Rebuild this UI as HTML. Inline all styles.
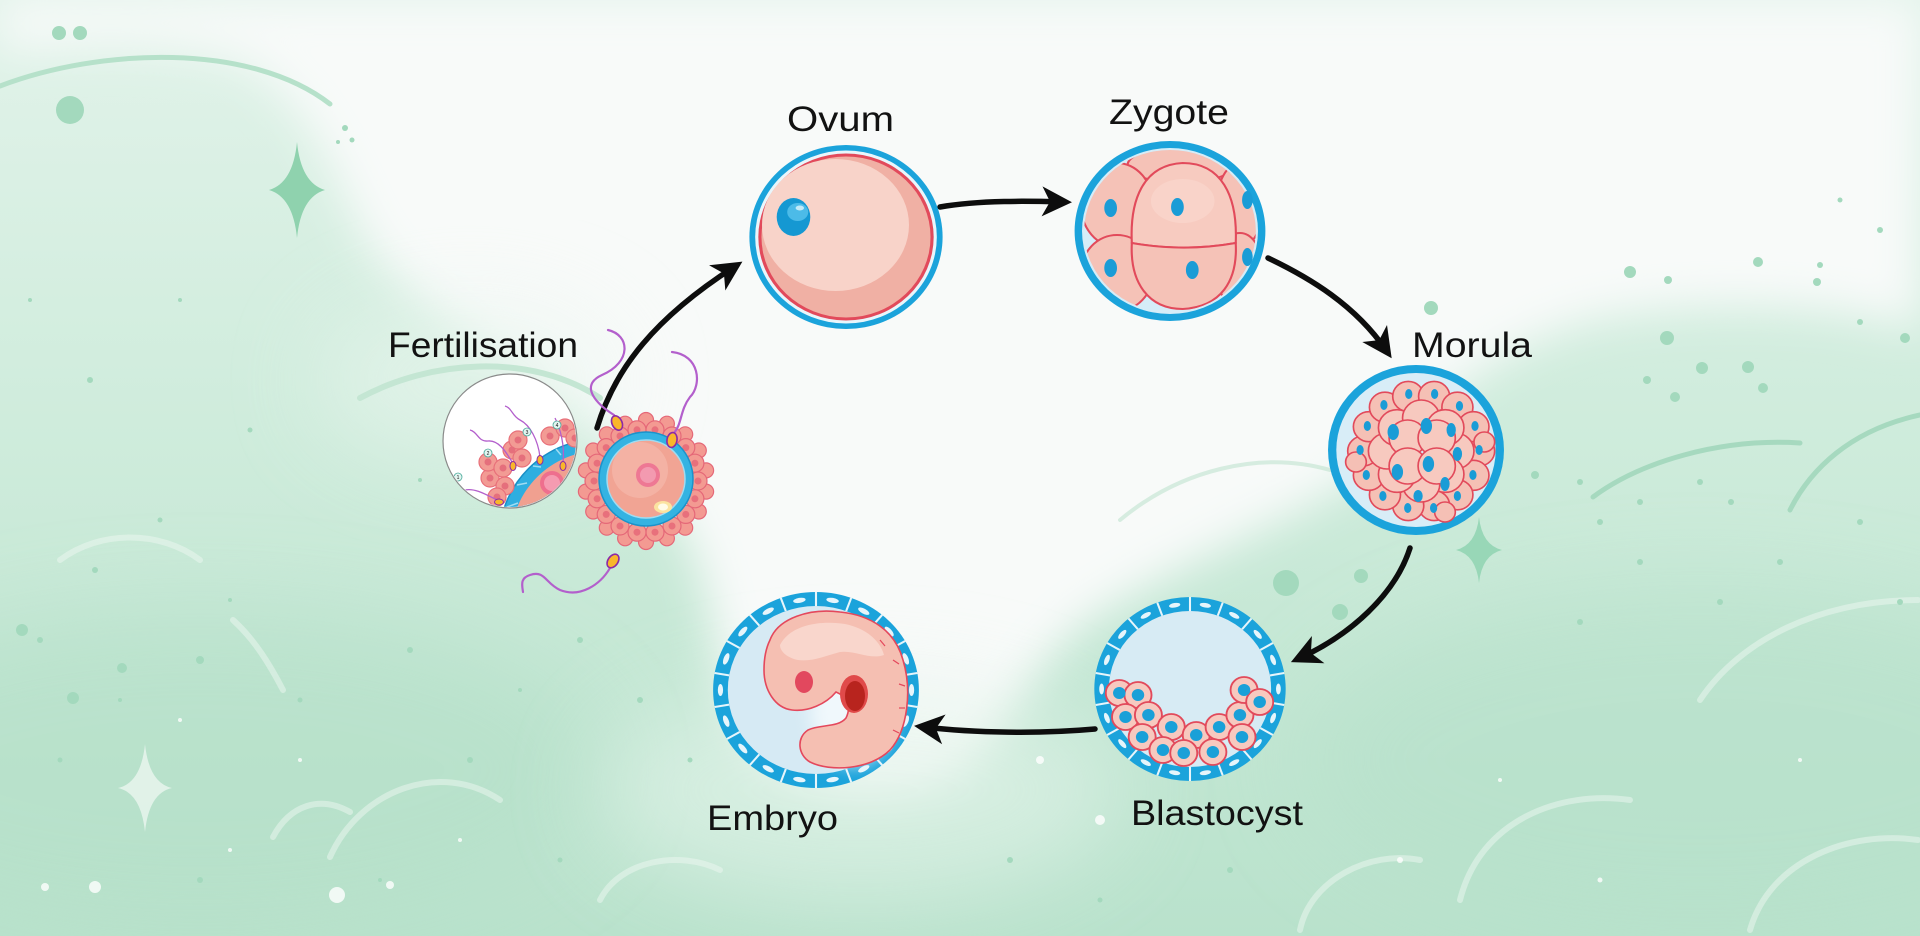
<!DOCTYPE html>
<html><head><meta charset="utf-8"><style>
html,body{margin:0;padding:0;width:1920px;height:936px;overflow:hidden;background:#f7faf8;position:relative}
svg{display:block;position:absolute;left:0;top:0;overflow:hidden}
text{font-family:"Liberation Sans",sans-serif;fill:#121212}
</style></head><body>
<svg width="1920" height="936" viewBox="0 0 1920 936" xmlns="http://www.w3.org/2000/svg">
<defs>
<linearGradient id="gb" x1="0" y1="0" x2="0" y2="1">
<stop offset="0" stop-color="#e2f3ea"/><stop offset="0.45" stop-color="#cfecdc"/><stop offset="1" stop-color="#b9e2cc"/>
</linearGradient>
<filter id="b22" x="-20%" y="-20%" width="140%" height="140%"><feGaussianBlur stdDeviation="22"/></filter>
<filter id="b45" x="-50%" y="-50%" width="200%" height="200%"><feGaussianBlur stdDeviation="45"/></filter>
<filter id="b8" x="-50%" y="-50%" width="200%" height="200%"><feGaussianBlur stdDeviation="8"/></filter>
<marker id="ah" markerUnits="userSpaceOnUse" markerWidth="40" markerHeight="40" viewBox="-25 -20 40 40" refX="0" refY="0" orient="auto" overflow="visible">
<path d="M10,0 L-20,-15 L-12,0 L-20,15 Z" fill="#0d0d0d"/>
</marker>
<clipPath id="zc"><circle cx="0" cy="0" r="81"/></clipPath>
<clipPath id="mc"><circle cx="510" cy="441" r="66"/></clipPath>
</defs>

<!-- BACKGROUND -->
<rect width="1920" height="936" fill="url(#gb)"/>
<ellipse cx="200" cy="770" rx="400" ry="160" fill="#b3dfc7" opacity="0.55" filter="url(#b45)"/>
<ellipse cx="1700" cy="760" rx="400" ry="170" fill="#b5e0c9" opacity="0.55" filter="url(#b45)"/>
<path filter="url(#b22)" fill="#f8faf9" d="M0,0 L1920,0 L1920,330 C1860,305 1700,295 1590,320 C1500,345 1440,400 1380,460 C1300,520 1180,560 1090,620 C1030,660 1010,730 960,775 C900,810 800,800 760,760 C720,720 720,640 700,570 C680,500 620,450 560,400 C480,340 400,300 360,230 C330,160 300,90 240,60 C160,35 60,45 0,50 Z"/>
<ellipse cx="860" cy="790" rx="260" ry="110" fill="#e4f4eb" opacity="0.6" filter="url(#b45)"/>
<ellipse cx="470" cy="380" rx="150" ry="80" fill="#eaf6ef" opacity="0.6" filter="url(#b45)"/>

<!-- arcs -->
<g fill="none" stroke-linecap="round">
<path d="M0,86 C100,48 250,42 330,104" stroke="#b6e1ca" stroke-width="5"/>
<path d="M360,398 C430,360 530,352 600,398" stroke="#c4e6d3" stroke-width="6"/>
<path d="M1593,497 C1640,462 1720,438 1800,443" stroke="#a6d9bf" stroke-width="5"/>
<path d="M1790,510 C1810,470 1850,430 1920,415" stroke="#a6d9bf" stroke-width="5"/>
<path d="M1120,520 C1180,470 1260,450 1330,470" stroke="#bfe3cf" stroke-width="4" opacity="0.6"/>
<g stroke="#eef8f2" stroke-width="6" opacity="0.5">
<path d="M273,837 C290,805 320,795 350,812"/>
<path d="M330,857 C360,790 440,760 500,800"/>
<path d="M233,620 C255,640 270,665 283,690"/>
<path d="M1750,930 C1770,860 1850,830 1918,840"/>
<path d="M1460,900 C1480,820 1560,790 1630,800"/>
<path d="M1300,930 C1310,880 1370,850 1420,860"/>
<path d="M1700,700 C1740,640 1820,600 1918,600"/>
<path d="M60,560 C100,530 160,530 200,560"/>
<path d="M600,900 C620,860 680,850 720,870"/>
</g>
</g>

<!-- sparkles & dots -->
<path d="M297,142 Q301,183 325,190 Q301,197 297,238 Q293,197 269,190 Q293,183 297,142Z" fill="#8fd2ae"/>
<path d="M1479,517 Q1482,545 1502,550 Q1482,555 1479,583 Q1476,555 1456,550 Q1476,545 1479,517Z" fill="#98d7b7"/>
<path d="M145,744 Q149,783 172,788 Q149,793 145,832 Q141,793 118,788 Q141,783 145,744Z" fill="#e7f5ed" opacity="0.85"/>
<g fill="#a3d9bd">
<circle cx="59" cy="33" r="7"/><circle cx="80" cy="33" r="7"/><circle cx="70" cy="110" r="14"/>
<circle cx="345" cy="128" r="3"/><circle cx="352" cy="140" r="2.5"/><circle cx="338" cy="142" r="2"/>
<circle cx="1431" cy="308" r="7"/><circle cx="1286" cy="583" r="13"/><circle cx="1361" cy="576" r="7"/><circle cx="1340" cy="612" r="8"/>
<circle cx="1630" cy="272" r="6"/><circle cx="1668" cy="280" r="4"/><circle cx="1758" cy="262" r="5"/><circle cx="1817" cy="282" r="4"/>
<circle cx="1905" cy="338" r="5"/><circle cx="1667" cy="338" r="7"/><circle cx="1702" cy="368" r="6"/><circle cx="1748" cy="367" r="6"/>
<circle cx="1763" cy="388" r="5"/><circle cx="1647" cy="380" r="4"/><circle cx="1675" cy="397" r="5"/><circle cx="1820" cy="265" r="3"/>
<circle cx="1860" cy="322" r="3"/><circle cx="1535" cy="475" r="4"/><circle cx="1580" cy="482" r="3"/><circle cx="1600" cy="522" r="3"/>
<circle cx="1640" cy="502" r="3"/><circle cx="1700" cy="482" r="3"/><circle cx="1731" cy="502" r="3"/><circle cx="1860" cy="522" r="3"/>
<circle cx="1780" cy="562" r="3"/><circle cx="1720" cy="602" r="3"/><circle cx="1640" cy="562" r="3"/><circle cx="1580" cy="622" r="3"/>
<circle cx="1900" cy="602" r="3"/><circle cx="1880" cy="230" r="3"/><circle cx="1840" cy="200" r="2.5"/>
<circle cx="95" cy="570" r="3"/><circle cx="160" cy="520" r="2.5"/><circle cx="40" cy="640" r="3"/><circle cx="230" cy="600" r="2"/>
<circle cx="300" cy="700" r="2.5"/><circle cx="410" cy="650" r="3"/><circle cx="120" cy="700" r="2"/><circle cx="60" cy="760" r="2.5"/>
<circle cx="520" cy="690" r="2"/><circle cx="470" cy="760" r="3"/><circle cx="200" cy="880" r="3"/><circle cx="380" cy="880" r="2"/>
<circle cx="560" cy="860" r="2.5"/><circle cx="90" cy="380" r="3"/><circle cx="180" cy="300" r="2"/><circle cx="30" cy="300" r="2"/>
<circle cx="250" cy="430" r="2.5"/><circle cx="420" cy="480" r="2"/><circle cx="73" cy="698" r="6"/><circle cx="122" cy="668" r="5"/>
<circle cx="200" cy="660" r="4"/><circle cx="22" cy="630" r="6"/><circle cx="580" cy="640" r="3"/><circle cx="640" cy="700" r="3"/>
<circle cx="690" cy="760" r="2.5"/><circle cx="1010" cy="860" r="3"/><circle cx="1100" cy="900" r="2.5"/><circle cx="1230" cy="870" r="3"/>
</g>
<g fill="#ffffff" opacity="0.8">
<circle cx="95" cy="887" r="6"/><circle cx="337" cy="895" r="8"/><circle cx="390" cy="885" r="4"/><circle cx="45" cy="887" r="4"/>
<circle cx="180" cy="720" r="2"/><circle cx="300" cy="760" r="2"/><circle cx="460" cy="840" r="2"/><circle cx="230" cy="850" r="2"/>
<circle cx="1400" cy="860" r="3"/><circle cx="1600" cy="880" r="2.5"/><circle cx="1800" cy="760" r="2"/><circle cx="1500" cy="780" r="2"/>
<circle cx="1100" cy="820" r="5"/><circle cx="1040" cy="760" r="4"/>
</g>

<!-- ARROWS -->
<g fill="none" stroke="#0d0d0d" stroke-width="5.5" stroke-linecap="round" marker-end="url(#ah)">
<path d="M597,428 C615,368 655,318 734,267"/>
<path d="M940,207 C980,200 1030,201 1062,202"/>
<path d="M1268,258 C1310,278 1355,305 1386,350"/>
<path d="M1410,548 C1395,595 1350,635 1300,658"/>
<path d="M1095,729 C1040,734 975,733 924,727"/>
</g>

<!-- OVUM -->
<g transform="translate(846,237) scale(1.05,1)">
<circle r="92" fill="#1ba3db"/>
<circle r="86.5" fill="#e9f6fb"/>
<circle r="83.5" fill="#e24a5b"/>
<circle r="80.5" fill="#f0b0a4"/>
<ellipse cx="-10" cy="-12" rx="70" ry="66" fill="#f8d3c9"/>
<ellipse cx="-50" cy="-20" rx="16" ry="19" fill="#1598d2"/>
<ellipse cx="-46" cy="-25" rx="10" ry="9" fill="#4cbbe8"/>
<ellipse cx="-44" cy="-29" rx="4" ry="2.5" fill="#c2eaf8"/>
</g>

<!-- ZYGOTE -->
<g transform="translate(1170,231) scale(1.06,1)">
<circle r="90" fill="#1ba3db"/>
<circle r="83" fill="#d5edf8"/>
<g clip-path="url(#zc)" fill="#f5c2b7" stroke="#e24a5b" stroke-width="2">
<ellipse cx="10" cy="-66" rx="50" ry="18"/>
<ellipse cx="-50" cy="-26" rx="34" ry="42"/>
<ellipse cx="-50" cy="42" rx="34" ry="38"/>
<ellipse cx="66" cy="-26" rx="22" ry="42"/>
<ellipse cx="66" cy="40" rx="22" ry="38"/>
<path d="M-36,12 C-38,-30 -26,-66 12,-68 C48,-68 64,-36 62,12 C30,18 -4,18 -36,12 Z" fill="#f7cbc0"/>
<path d="M-36,12 C-4,18 30,18 62,12 C64,50 48,76 12,78 C-20,78 -38,52 -36,12 Z"/>
</g>
<ellipse cx="12" cy="-30" rx="30" ry="22" fill="#fad8cf" opacity="0.6"/>
<g fill="#1a9cd6">
<ellipse cx="-56" cy="-23" rx="6" ry="9"/><ellipse cx="7" cy="-24" rx="6" ry="9"/><ellipse cx="73" cy="-31" rx="5" ry="9"/>
<ellipse cx="-56" cy="37" rx="6" ry="9"/><ellipse cx="21" cy="39" rx="6" ry="9"/><ellipse cx="73" cy="26" rx="5" ry="9"/>
</g>
</g>

<!-- MORULA -->
<g transform="translate(1416,450) scale(1.035,1)">
<circle r="85" fill="#1ba3db"/>
<circle r="77" fill="#d8edf7"/>
<g fill="#f5c0b5" stroke="#e24a5b" stroke-width="1.6">
<circle cx="61" cy="1" r="15"/><circle cx="55.5" cy="25.3" r="15"/><circle cx="40" cy="44.8" r="15"/><circle cx="17.5" cy="55.6" r="15"/>
<circle cx="-7.5" cy="55.6" r="15"/><circle cx="-30" cy="44.8" r="15"/><circle cx="-45.5" cy="25.3" r="15"/><circle cx="-51" cy="1" r="15"/>
<circle cx="-45.5" cy="-23.3" r="15"/><circle cx="-30" cy="-42.8" r="15"/><circle cx="-7.5" cy="-53.6" r="15"/><circle cx="17.5" cy="-53.6" r="15"/>
<circle cx="40" cy="-42.8" r="15"/><circle cx="55.5" cy="-23.3" r="15"/>
<circle cx="66" cy="-8" r="10"/><circle cx="-58" cy="12" r="10"/><circle cx="28" cy="62" r="10"/>
</g>
<g fill="#f7c9bf" stroke="#e24a5b" stroke-width="1.6">
<circle cx="38" cy="1" r="18"/><circle cx="28.3" cy="24.3" r="18"/><circle cx="5" cy="34" r="18"/><circle cx="-18.3" cy="24.3" r="18"/>
<circle cx="-28" cy="1" r="18"/><circle cx="-18.3" cy="-22.3" r="18"/><circle cx="5" cy="-32" r="18"/><circle cx="28.3" cy="-22.3" r="18"/>
<circle cx="-8" cy="-12" r="18"/><circle cx="20" cy="-12" r="18"/><circle cx="-8" cy="16" r="18"/><circle cx="20" cy="16" r="18"/>
</g>
<g fill="#1a9cd6">
<ellipse cx="61" cy="0" rx="3.5" ry="5"/><ellipse cx="55" cy="25" rx="3.5" ry="5"/><ellipse cx="40" cy="46" rx="3.5" ry="5"/><ellipse cx="17" cy="58" rx="3.5" ry="5"/>
<ellipse cx="-8" cy="58" rx="3.5" ry="5"/><ellipse cx="-32" cy="46" rx="3.5" ry="5"/><ellipse cx="-48" cy="25" rx="3.5" ry="5"/><ellipse cx="-54" cy="0" rx="3.5" ry="5"/>
<ellipse cx="-47" cy="-24" rx="3.5" ry="5"/><ellipse cx="-31" cy="-45" rx="3.5" ry="5"/><ellipse cx="-7" cy="-56" rx="3.5" ry="5"/><ellipse cx="18" cy="-56" rx="3.5" ry="5"/>
<ellipse cx="42" cy="-44" rx="3.5" ry="5"/><ellipse cx="57" cy="-24" rx="3.5" ry="5"/>
<ellipse cx="-22" cy="-18" rx="5.5" ry="8"/><ellipse cx="10" cy="-24" rx="5.5" ry="8"/><ellipse cx="34" cy="-20" rx="4.5" ry="7"/>
<ellipse cx="40" cy="4" rx="4.5" ry="7"/><ellipse cx="12" cy="14" rx="5.5" ry="8"/><ellipse cx="-18" cy="22" rx="5.5" ry="8"/>
<ellipse cx="28" cy="34" rx="4.5" ry="7"/><ellipse cx="2" cy="46" rx="4.5" ry="6"/>
</g>
</g>

<!-- BLASTOCYST -->
<g transform="translate(1190,689) scale(1.04,1)">
<circle r="92" fill="#1ba3db"/>
<circle r="78" fill="#d7ebf4"/>
<g stroke="#e6f5fb" stroke-width="2">
<line x1="0" y1="-78" x2="0" y2="-92"/><line x1="0" y1="-78" x2="0" y2="-92" transform="rotate(20)"/><line x1="0" y1="-78" x2="0" y2="-92" transform="rotate(40)"/>
<line x1="0" y1="-78" x2="0" y2="-92" transform="rotate(60)"/><line x1="0" y1="-78" x2="0" y2="-92" transform="rotate(80)"/><line x1="0" y1="-78" x2="0" y2="-92" transform="rotate(100)"/>
<line x1="0" y1="-78" x2="0" y2="-92" transform="rotate(120)"/><line x1="0" y1="-78" x2="0" y2="-92" transform="rotate(140)"/><line x1="0" y1="-78" x2="0" y2="-92" transform="rotate(160)"/>
<line x1="0" y1="-78" x2="0" y2="-92" transform="rotate(180)"/><line x1="0" y1="-78" x2="0" y2="-92" transform="rotate(200)"/><line x1="0" y1="-78" x2="0" y2="-92" transform="rotate(220)"/>
<line x1="0" y1="-78" x2="0" y2="-92" transform="rotate(240)"/><line x1="0" y1="-78" x2="0" y2="-92" transform="rotate(260)"/><line x1="0" y1="-78" x2="0" y2="-92" transform="rotate(280)"/>
<line x1="0" y1="-78" x2="0" y2="-92" transform="rotate(300)"/><line x1="0" y1="-78" x2="0" y2="-92" transform="rotate(320)"/><line x1="0" y1="-78" x2="0" y2="-92" transform="rotate(340)"/>
</g>
<g fill="#e6f5fb">
<ellipse cx="0" cy="-85" rx="5.5" ry="2.3" transform="rotate(10)"/><ellipse cx="0" cy="-85" rx="5.5" ry="2.3" transform="rotate(30)"/><ellipse cx="0" cy="-85" rx="5.5" ry="2.3" transform="rotate(50)"/>
<ellipse cx="0" cy="-85" rx="5.5" ry="2.3" transform="rotate(70)"/><ellipse cx="0" cy="-85" rx="5.5" ry="2.3" transform="rotate(90)"/><ellipse cx="0" cy="-85" rx="5.5" ry="2.3" transform="rotate(110)"/>
<ellipse cx="0" cy="-85" rx="5.5" ry="2.3" transform="rotate(130)"/><ellipse cx="0" cy="-85" rx="5.5" ry="2.3" transform="rotate(150)"/><ellipse cx="0" cy="-85" rx="5.5" ry="2.3" transform="rotate(170)"/>
<ellipse cx="0" cy="-85" rx="5.5" ry="2.3" transform="rotate(190)"/><ellipse cx="0" cy="-85" rx="5.5" ry="2.3" transform="rotate(210)"/><ellipse cx="0" cy="-85" rx="5.5" ry="2.3" transform="rotate(230)"/>
<ellipse cx="0" cy="-85" rx="5.5" ry="2.3" transform="rotate(250)"/><ellipse cx="0" cy="-85" rx="5.5" ry="2.3" transform="rotate(270)"/><ellipse cx="0" cy="-85" rx="5.5" ry="2.3" transform="rotate(290)"/>
<ellipse cx="0" cy="-85" rx="5.5" ry="2.3" transform="rotate(310)"/><ellipse cx="0" cy="-85" rx="5.5" ry="2.3" transform="rotate(330)"/><ellipse cx="0" cy="-85" rx="5.5" ry="2.3" transform="rotate(350)"/>
</g>
<g fill="#f7c9bf" stroke="#e24a5b" stroke-width="1.8">
<circle cx="-68" cy="4" r="13"/><circle cx="-50" cy="6" r="13"/><circle cx="-62" cy="28" r="13"/><circle cx="-40" cy="26" r="13"/>
<circle cx="-46" cy="48" r="13"/><circle cx="-18" cy="38" r="13"/><circle cx="-26" cy="61" r="13"/><circle cx="6" cy="46" r="13"/>
<circle cx="-6" cy="64" r="13"/><circle cx="28" cy="38" r="13"/><circle cx="22" cy="63" r="13"/><circle cx="48" cy="26" r="13"/>
<circle cx="50" cy="48" r="13"/><circle cx="52" cy="1" r="13"/><circle cx="67" cy="13" r="13"/>
</g>
<g fill="#1aa0d8">
<circle cx="-68" cy="4" r="6"/><circle cx="-50" cy="6" r="6"/><circle cx="-62" cy="28" r="6"/><circle cx="-40" cy="26" r="6"/>
<circle cx="-46" cy="48" r="6"/><circle cx="-18" cy="38" r="6"/><circle cx="-26" cy="61" r="6"/><circle cx="6" cy="46" r="6"/>
<circle cx="-6" cy="64" r="6"/><circle cx="28" cy="38" r="6"/><circle cx="22" cy="63" r="6"/><circle cx="48" cy="26" r="6"/>
<circle cx="50" cy="48" r="6"/><circle cx="52" cy="1" r="6"/><circle cx="67" cy="13" r="6"/>
</g>
</g>

<!-- EMBRYO -->
<g transform="translate(816,690) scale(1.05,1)">
<circle r="98" fill="#1ba3db"/>
<circle r="84" fill="#d6eaf4"/>
<ellipse cx="35" cy="20" rx="40" ry="55" fill="#f0f8fc" filter="url(#b8)"/>
<g stroke="#e6f5fb" stroke-width="2">
<line x1="0" y1="-84" x2="0" y2="-98"/><line x1="0" y1="-84" x2="0" y2="-98" transform="rotate(20)"/><line x1="0" y1="-84" x2="0" y2="-98" transform="rotate(40)"/>
<line x1="0" y1="-84" x2="0" y2="-98" transform="rotate(60)"/><line x1="0" y1="-84" x2="0" y2="-98" transform="rotate(80)"/><line x1="0" y1="-84" x2="0" y2="-98" transform="rotate(100)"/>
<line x1="0" y1="-84" x2="0" y2="-98" transform="rotate(120)"/><line x1="0" y1="-84" x2="0" y2="-98" transform="rotate(140)"/><line x1="0" y1="-84" x2="0" y2="-98" transform="rotate(160)"/>
<line x1="0" y1="-84" x2="0" y2="-98" transform="rotate(180)"/><line x1="0" y1="-84" x2="0" y2="-98" transform="rotate(200)"/><line x1="0" y1="-84" x2="0" y2="-98" transform="rotate(220)"/>
<line x1="0" y1="-84" x2="0" y2="-98" transform="rotate(240)"/><line x1="0" y1="-84" x2="0" y2="-98" transform="rotate(260)"/><line x1="0" y1="-84" x2="0" y2="-98" transform="rotate(280)"/>
<line x1="0" y1="-84" x2="0" y2="-98" transform="rotate(300)"/><line x1="0" y1="-84" x2="0" y2="-98" transform="rotate(320)"/><line x1="0" y1="-84" x2="0" y2="-98" transform="rotate(340)"/>
</g>
<g fill="#e6f5fb">
<ellipse cx="0" cy="-91" rx="6" ry="2.5" transform="rotate(10)"/><ellipse cx="0" cy="-91" rx="6" ry="2.5" transform="rotate(30)"/><ellipse cx="0" cy="-91" rx="6" ry="2.5" transform="rotate(50)"/>
<ellipse cx="0" cy="-91" rx="6" ry="2.5" transform="rotate(70)"/><ellipse cx="0" cy="-91" rx="6" ry="2.5" transform="rotate(90)"/><ellipse cx="0" cy="-91" rx="6" ry="2.5" transform="rotate(110)"/>
<ellipse cx="0" cy="-91" rx="6" ry="2.5" transform="rotate(130)"/><ellipse cx="0" cy="-91" rx="6" ry="2.5" transform="rotate(150)"/><ellipse cx="0" cy="-91" rx="6" ry="2.5" transform="rotate(170)"/>
<ellipse cx="0" cy="-91" rx="6" ry="2.5" transform="rotate(190)"/><ellipse cx="0" cy="-91" rx="6" ry="2.5" transform="rotate(210)"/><ellipse cx="0" cy="-91" rx="6" ry="2.5" transform="rotate(230)"/>
<ellipse cx="0" cy="-91" rx="6" ry="2.5" transform="rotate(250)"/><ellipse cx="0" cy="-91" rx="6" ry="2.5" transform="rotate(270)"/><ellipse cx="0" cy="-91" rx="6" ry="2.5" transform="rotate(290)"/>
<ellipse cx="0" cy="-91" rx="6" ry="2.5" transform="rotate(310)"/><ellipse cx="0" cy="-91" rx="6" ry="2.5" transform="rotate(330)"/><ellipse cx="0" cy="-91" rx="6" ry="2.5" transform="rotate(350)"/>
</g>
</g>
<path d="M770,640 C778,618 810,608 840,612 C870,615 895,630 903,660 C912,690 908,730 890,750 C870,770 830,772 810,762 C798,755 796,738 808,730 C820,724 838,728 846,718 C852,706 846,696 836,692 C826,704 808,712 792,710 C775,708 764,690 764,670 C764,660 765,650 770,640 Z" fill="#f5bfb2" stroke="#e4485c" stroke-width="1.6"/>
<path d="M780,645 C790,625 820,620 845,624 C865,628 880,640 884,655 C870,660 855,650 840,652 C825,656 812,662 798,660 C788,658 780,652 780,645 Z" fill="#f9d6cc"/>
<ellipse cx="804" cy="682" rx="9" ry="11" fill="#e2485e"/>
<ellipse cx="854" cy="694" rx="14" ry="19" fill="#e04a4a"/>
<ellipse cx="855" cy="696" rx="10" ry="15" fill="#b8241e"/>
<g stroke="#e4485c" stroke-width="1.2">
<line x1="880" y1="640" x2="885" y2="646"/><line x1="893" y1="660" x2="899" y2="664"/><line x1="899" y1="684" x2="905" y2="686"/>
<line x1="899" y1="708" x2="905" y2="708"/><line x1="893" y1="730" x2="899" y2="733"/>
</g>

<!-- FERTILISATION -->
<circle cx="510" cy="441" r="67" fill="#ffffff" stroke="#8a8a8a" stroke-width="1.2"/>
<g clip-path="url(#mc)">
<circle cx="600" cy="540" r="101" fill="#2eaee0" stroke="#1a8fc6" stroke-width="1.5"/>
<circle cx="600" cy="540" r="89" fill="#f0a090"/>
<g stroke="#9fdcf2" stroke-width="1.5">
<line x1="507" y1="507" x2="518" y2="503"/><line x1="517" y1="485" x2="527" y2="483"/><line x1="533" y1="466" x2="541" y2="467"/><line x1="556" y1="449" x2="561" y2="455"/>
</g>
<circle cx="552" cy="483" r="12" fill="#ee6f8e"/><circle cx="552" cy="483" r="8" fill="#f59bb1"/>
<g fill="#f29b94" stroke="#e8707a" stroke-width="1.2">
<circle cx="490" cy="478" r="9"/><circle cx="505" cy="486" r="9"/><circle cx="488" cy="462" r="9"/><circle cx="503" cy="468" r="9"/>
<circle cx="512" cy="450" r="9"/><circle cx="522" cy="458" r="9"/><circle cx="518" cy="440" r="9"/><circle cx="550" cy="436" r="9"/>
<circle cx="565" cy="428" r="9"/><circle cx="575" cy="438" r="9"/><circle cx="497" cy="497" r="9"/>
</g>
<g fill="#e56f7c">
<circle cx="490" cy="478" r="3.5"/><circle cx="505" cy="486" r="3.5"/><circle cx="488" cy="462" r="3.5"/><circle cx="503" cy="468" r="3.5"/>
<circle cx="512" cy="450" r="3.5"/><circle cx="522" cy="458" r="3.5"/><circle cx="518" cy="440" r="3.5"/><circle cx="550" cy="436" r="3.5"/>
<circle cx="565" cy="428" r="3.5"/><circle cx="575" cy="438" r="3.5"/><circle cx="497" cy="497" r="3.5"/>
</g>
<g fill="none" stroke="#b35fcc" stroke-width="1.3">
<path d="M512,462 C505,450 498,440 488,441 C478,442 478,432 470,430"/>
<path d="M540,457 C538,440 530,425 520,420 C512,416 512,408 505,406"/>
<path d="M563,462 C565,445 560,428 555,418"/>
<path d="M497,500 C485,494 475,488 465,490 C455,492 450,482 445,480"/>
</g>
<g fill="#f9b62b" stroke="#8c2aa6" stroke-width="1">
<ellipse cx="513" cy="466" rx="3" ry="4.5"/><ellipse cx="540" cy="460" rx="3" ry="4.5"/><ellipse cx="563" cy="466" rx="3" ry="4.5"/><ellipse cx="499" cy="502" rx="4.5" ry="3"/>
</g>
<g fill="#e2f5f0" stroke="#4aa99a" stroke-width="0.8">
<circle cx="458" cy="477" r="4"/><circle cx="488" cy="453" r="4"/><circle cx="527" cy="432" r="4"/><circle cx="557" cy="425" r="4"/>
</g>
<g font-size="5" text-anchor="middle" style="fill:#336">
<text x="458" y="479">1</text><text x="488" y="455">2</text><text x="527" y="434">3</text><text x="557" y="427">4</text>
</g>
</g>

<g fill="#f39a92" stroke="#e56878" stroke-width="1.2">
<circle cx="706.1" cy="491.6" r="7.5"/><circle cx="698.8" cy="511.5" r="7.5"/><circle cx="685.2" cy="527.7" r="7.5"/><circle cx="666.9" cy="538.3" r="7.5"/>
<circle cx="646" cy="542" r="7.5"/><circle cx="625.1" cy="538.3" r="7.5"/><circle cx="606.8" cy="527.7" r="7.5"/><circle cx="593.2" cy="511.5" r="7.5"/>
<circle cx="585.9" cy="491.6" r="7.5"/><circle cx="585.9" cy="470.4" r="7.5"/><circle cx="593.2" cy="450.5" r="7.5"/><circle cx="606.8" cy="434.3" r="7.5"/>
<circle cx="625.1" cy="423.7" r="7.5"/><circle cx="646" cy="420" r="7.5"/><circle cx="666.9" cy="423.7" r="7.5"/><circle cx="685.2" cy="434.3" r="7.5"/>
<circle cx="698.8" cy="450.5" r="7.5"/><circle cx="706.1" cy="470.4" r="7.5"/>
<circle cx="698" cy="481" r="9"/><circle cx="694.9" cy="498.8" r="9"/><circle cx="685.8" cy="514.4" r="9"/><circle cx="672" cy="526" r="9"/>
<circle cx="655" cy="532.2" r="9"/><circle cx="637" cy="532.2" r="9"/><circle cx="620" cy="526" r="9"/><circle cx="606.2" cy="514.4" r="9"/>
<circle cx="597.1" cy="498.8" r="9"/><circle cx="594" cy="481" r="9"/><circle cx="597.1" cy="463.2" r="9"/><circle cx="606.2" cy="447.6" r="9"/>
<circle cx="620" cy="436" r="9"/><circle cx="637" cy="429.8" r="9"/><circle cx="655" cy="429.8" r="9"/><circle cx="672" cy="436" r="9"/>
<circle cx="685.8" cy="447.6" r="9"/><circle cx="694.9" cy="463.2" r="9"/>
</g>
<g fill="#e8707c">
<circle cx="698" cy="481" r="3.5"/><circle cx="694.9" cy="498.8" r="3.5"/><circle cx="685.8" cy="514.4" r="3.5"/><circle cx="672" cy="526" r="3.5"/>
<circle cx="655" cy="532.2" r="3.5"/><circle cx="637" cy="532.2" r="3.5"/><circle cx="620" cy="526" r="3.5"/><circle cx="606.2" cy="514.4" r="3.5"/>
<circle cx="597.1" cy="498.8" r="3.5"/><circle cx="594" cy="481" r="3.5"/><circle cx="597.1" cy="463.2" r="3.5"/><circle cx="606.2" cy="447.6" r="3.5"/>
<circle cx="620" cy="436" r="3.5"/><circle cx="637" cy="429.8" r="3.5"/><circle cx="655" cy="429.8" r="3.5"/><circle cx="672" cy="436" r="3.5"/>
<circle cx="685.8" cy="447.6" r="3.5"/><circle cx="694.9" cy="463.2" r="3.5"/>
</g>
<circle cx="646" cy="479" r="47" fill="#34b3e2" stroke="#1a93cb" stroke-width="1.5"/>
<circle cx="646" cy="479" r="39" fill="#f1a494" stroke="#9fdcf2" stroke-width="1.5"/>
<circle cx="640" cy="470" r="28" fill="#f4b2a4"/>
<circle cx="648" cy="475" r="12" fill="#ee7894"/><circle cx="648" cy="475" r="8" fill="#f39ab0"/>
<ellipse cx="663" cy="507" rx="9" ry="6" fill="#fbe3a0"/><ellipse cx="663" cy="507" rx="5" ry="3.5" fill="#fffbe8"/>

<g fill="none" stroke="#b35fcc" stroke-width="2.2" stroke-linecap="round">
<path d="M608,330 C630,335 632,362 602,375 C578,386 598,405 614,415"/>
<path d="M672,352 C700,355 702,385 690,397 C680,410 682,424 674,433"/>
<path d="M610,568 C600,585 580,598 560,590 C545,583 545,570 530,575 C520,578 522,585 523,592"/>
</g>
<g fill="#f9b62b" stroke="#8c2aa6" stroke-width="1.6">
<ellipse cx="617" cy="423" rx="5" ry="7.5" transform="rotate(-25 617 423)"/>
<ellipse cx="672" cy="440" rx="5" ry="7.5" transform="rotate(10 672 440)"/>
<ellipse cx="613" cy="561" rx="5" ry="7.5" transform="rotate(35 613 561)"/>
</g>

<!-- LABELS -->
<g font-size="35">
<text x="388" y="357" textLength="190" lengthAdjust="spacingAndGlyphs">Fertilisation</text>
<text x="787" y="131" textLength="107" lengthAdjust="spacingAndGlyphs">Ovum</text>
<text x="1109" y="124" textLength="120" lengthAdjust="spacingAndGlyphs">Zygote</text>
<text x="1412" y="357" textLength="120" lengthAdjust="spacingAndGlyphs">Morula</text>
<text x="1131" y="825" textLength="172" lengthAdjust="spacingAndGlyphs">Blastocyst</text>
<text x="707" y="830" textLength="131" lengthAdjust="spacingAndGlyphs">Embryo</text>
</g>
</svg>
</body></html>
